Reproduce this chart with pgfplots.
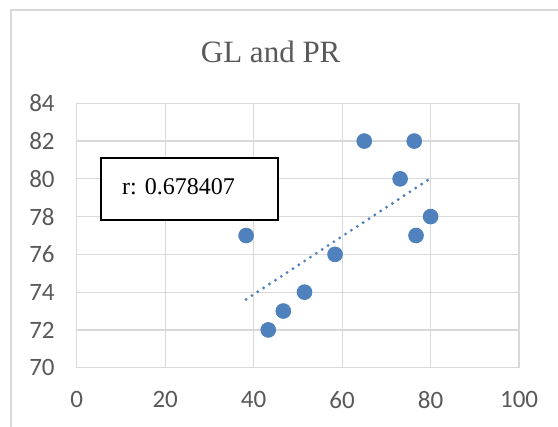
\documentclass[border=0pt]{standalone}
\usepackage{fontspec}
\setmainfont{Liberation Serif}
\newfontfamily\calibri{Carlito}
\usepackage{pgfplots}
\usepackage{pgfplotstable}
\pgfplotsset{compat=1.18}
\definecolor{ptblue}{RGB}{79,129,189}
\definecolor{gridgray}{RGB}{217,217,217}
\definecolor{txtgray}{RGB}{89,89,89}
\pgfplotstableread{
x y
38.3 77
43.3 72
46.7 73
51.5 74
58.4 76
65.0 82
73.1 80
76.3 82
76.7 77
80.0 78
}\datatable
\begin{document}
\begin{tikzpicture}
\path[use as bounding box] (-38.35pt,-29.65pt) rectangle (240.65pt,183.85pt);
\fill[white] (-38.35pt,-29.65pt) rectangle (240.65pt,183.85pt);
\draw[gridgray, line width=1pt] (-32.85pt,-29.65pt) -- (-32.85pt,178.85pt) -- (240.65pt,178.85pt);
\node[anchor=base, text=txtgray, font=\fontsize{15.5}{18}\selectfont] at (97pt,152.35pt) {GL and PR};
\begin{axis}[
  at={(0pt,0pt)}, anchor=south west,
  scale only axis, width=221.2pt, height=132.2pt,
  xmin=0, xmax=100, ymin=70, ymax=84,
  xtick={0,20,...,100}, ytick={70,72,...,84},
  grid=major, major grid style={gridgray, line width=0.6pt},
  axis line style={gridgray, line width=0.6pt},
  major tick length=0pt,
  tick label style={text=txtgray, font=\calibri\fontsize{12.5}{14}\selectfont},
  /pgf/number format/assume math mode=true,
  xticklabel style={yshift=-8.5pt},
  yticklabel style={xshift=-7.5pt},
  clip=false,
]
\addplot[only marks, mark=*, mark size=3.7pt, mark options={fill=ptblue, draw=ptblue}] table[x=x, y=y] {\datatable};
\addplot[ptblue, line width=1.6pt, dash pattern=on 0pt off 3.5pt, line cap=round, no marks] table[x=x, y={create col/linear regression={y=y}}] {\datatable};
\end{axis}
\draw[black, line width=1.1pt, fill=white] (12.15pt,73.85pt) rectangle (100.65pt,104.85pt);
\node[anchor=west, inner sep=0pt, font=\fontsize{12}{14}\selectfont] at (22.5pt,90.5pt) {r: 0.678407};
\end{tikzpicture}
\end{document}
